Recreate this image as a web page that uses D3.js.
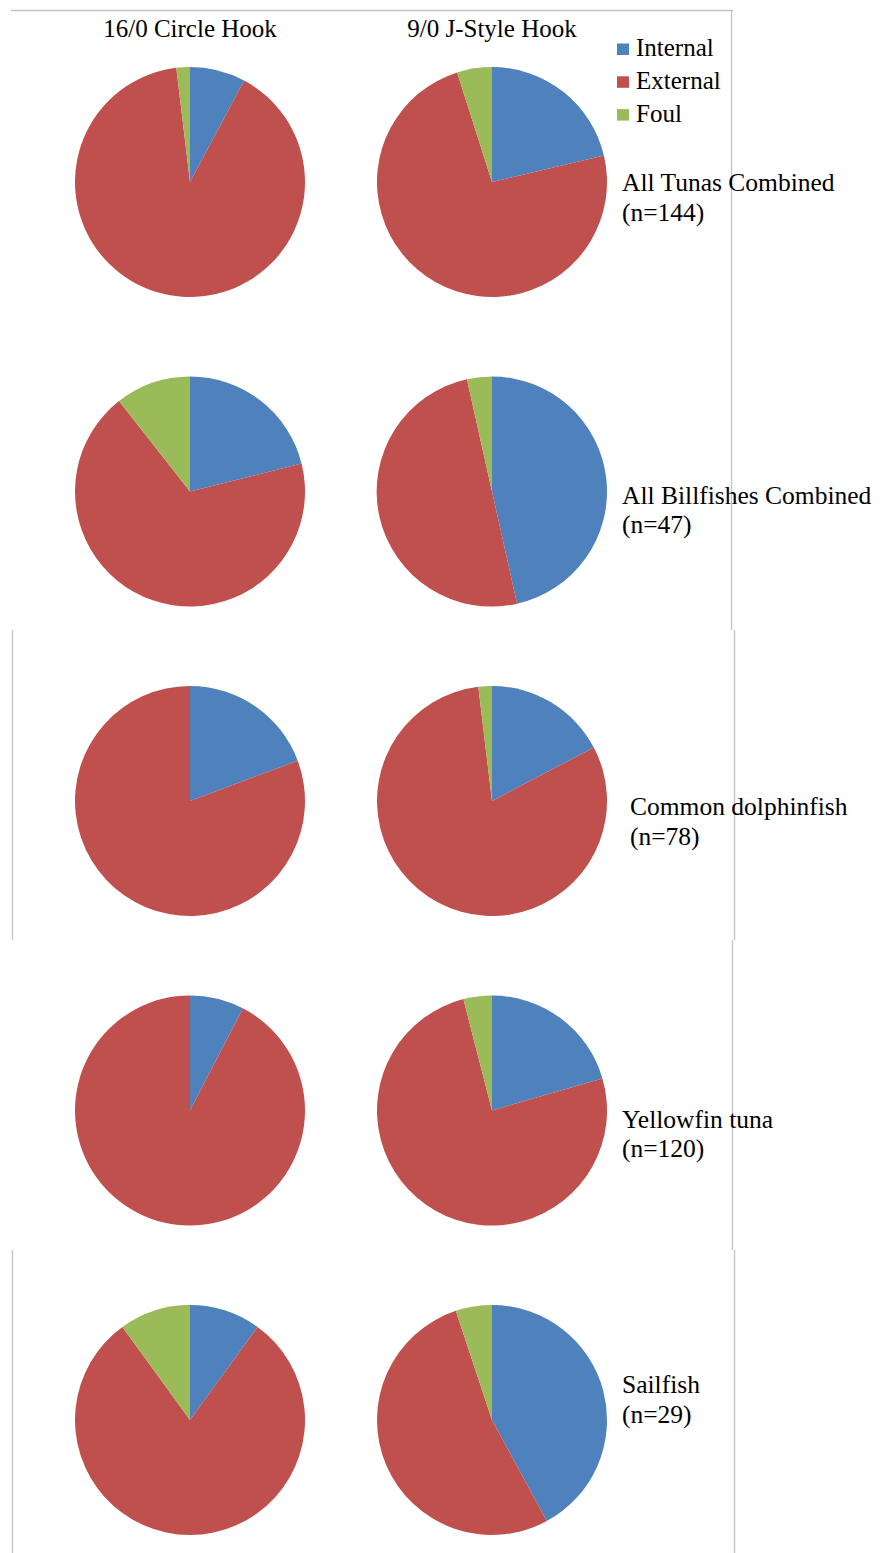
<!DOCTYPE html>
<html>
<head>
<meta charset="utf-8">
<script src="https://cdn.jsdelivr.net/npm/d3@7"></script>
<style>
  html, body { margin: 0; padding: 0; background: #fff; }
  svg { display: block; }
  text { font-family: "Liberation Serif", "Times New Roman", serif; fill: #000; }
</style>
</head>
<body>
<svg id="chart" width="880" height="1553" font-family="Liberation Serif, Times New Roman, serif"></svg>
<script>
// ---- Data (percent of hookings) ----
const categories = ["Internal", "External", "Foul"];
const hooks = ["16/0 Circle Hook", "9/0 J-Style Hook"];
const groups = ["All Tunas Combined", "All Billfishes Combined", "Common dolphinfish", "Yellowfin tuna", "Sailfish"];
const groupN = ["(n=144)", "(n=47)", "(n=78)", "(n=120)", "(n=29)"];

const circleInternal = [7.8, 21.1, 19.3, 7.6, 10.0];
const circleExternal = [90.3, 68.3, 80.7, 92.4, 80.0];
const circleFoul     = [1.9, 10.6, 0.0, 0.0, 10.0];

const jInternal = [21.3, 46.5, 17.3, 20.5, 42.1];
const jExternal = [73.8, 50.0, 80.8, 75.5, 52.8];
const jFoul     = [4.9, 3.5, 1.9, 4.0, 5.1];

const colors = ["#4F81BD", "#C0504D", "#9BBB59"];

// ---- Layout ----
const svg = d3.select("#chart");
const x = d3.scalePoint().domain(hooks).range([190, 492]);
const y = d3.scalePoint().domain(groups).range([182, 1420]);
const radius = 115;
const color = d3.scaleOrdinal().domain(categories).range(colors);

// panel frames (light gray)
const frameColor = "#c4c4c4";
const lines = [
  [11, 10.5, 733, 10.5], [731.5, 10, 731.5, 630],
  [12.5, 630, 12.5, 940], [734.5, 630, 734.5, 940],
  [732.5, 940, 732.5, 1250],
  [12.5, 1250, 12.5, 1553], [734.5, 1250, 734.5, 1553]
];
svg.append("g").selectAll("line").data(lines).join("line")
  .attr("x1", d => d[0]).attr("y1", d => d[1])
  .attr("x2", d => d[2]).attr("y2", d => d[3])
  .attr("stroke", frameColor).attr("stroke-width", 1.3);

const pie = d3.pie().sort(null).value(d => d.value);
const arc = d3.arc().innerRadius(0).outerRadius(radius);

const series = [
  [circleInternal, circleExternal, circleFoul],
  [jInternal, jExternal, jFoul]
];

hooks.forEach((hook, hi) => {
  groups.forEach((grp, gi) => {
    const vals = categories.map((c, ci) => ({ cat: c, value: series[hi][ci][gi] }));
    const g = svg.append("g").attr("transform", `translate(${x(hook)},${y(grp)})`);
    g.selectAll("path").data(pie(vals).filter(d => d.data.value > 0)).join("path")
      .attr("d", arc)
      .attr("fill", d => color(d.data.cat));
  });
});

// column titles
svg.append("g").selectAll("text").data(hooks).join("text")
  .attr("x", d => x(d)).attr("y", 37)
  .attr("text-anchor", "middle")
  .attr("font-size", 25)
  .text(d => d);

// legend
const leg = svg.append("g");
categories.forEach((c, i) => {
  const by = 56 + i * 32.8;
  leg.append("rect").attr("x", 617).attr("y", by - 12.5).attr("width", 12).attr("height", 11.5)
    .attr("fill", color(c));
  leg.append("text").attr("x", 636).attr("y", by).attr("font-size", 25).text(c);
});

// group labels (offsets relative to pie centre)
const labelDx = [622, 622, 630, 622, 622];
const labelDy = [9, 12, 14, 17, -27];
const lab = svg.append("g");
groups.forEach((grp, i) => {
  const t = lab.append("text").attr("font-size", 25.5);
  t.append("tspan").attr("x", labelDx[i]).attr("y", y(grp) + labelDy[i]).text(grp);
  t.append("tspan").attr("x", labelDx[i]).attr("y", y(grp) + labelDy[i] + 29.5).text(groupN[i]);
});
</script>
</body>
</html>
